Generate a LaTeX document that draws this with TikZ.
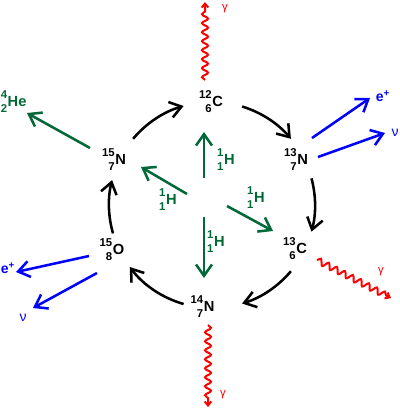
\documentclass[tikz,border=0pt]{standalone}
\usepackage{fontspec}
\setmainfont{Liberation Sans}
\usetikzlibrary{arrows.meta,decorations.pathmorphing,calc}
\definecolor{dgreen}{RGB}{0,105,55}
\newcommand{\nucl}[3]{\begin{tabular}{@{}r@{}}{\fontsize{8.5}{9}\selectfont\bfseries #1}\\{\fontsize{8.5}{9}\selectfont\bfseries #2}\end{tabular}\kern0.5pt{\bfseries #3}}
\begin{document}
\begin{tikzpicture}[x=0.75pt,y=-0.75pt,
  nuc/.style={inner sep=0pt,font=\fontsize{11}{10.5}\selectfont},
  lbl/.style={inner sep=0pt,font=\fontsize{10.5}{10.5}\selectfont},
  glbl/.style={inner sep=0pt,text=red,font=\fontsize{8.5}{8.5}\selectfont},
  cyc/.style={line width=1.9pt,-{Straight Barb[length=8.5pt,width=12pt]}},
  garr/.style={draw=dgreen,line width=1.9pt,-{Straight Barb[length=8.5pt,width=12pt]}},
  barr/.style={draw=blue,line width=1.9pt,-{Straight Barb[length=8.5pt,width=12pt]}},
  wave/.style={draw=red,line width=1.5pt,decorate,decoration={snake,amplitude=2.25pt,segment length=6.75pt,post length=3.75pt},-{Straight Barb[length=3pt,width=5pt]}}]
\useasboundingbox (0,0) rectangle (400,408);
\coordinate (c) at (212,205);
% nuclides
\node[nuc] (c12) at (211,103) {\nucl{12}{6}{C}};
\node[nuc] (n13) at (296,161) {\nucl{13}{7}{N}};
\node[nuc] (c13) at (295,250) {\nucl{13}{6}{C}};
\node[nuc] (n14) at (202.5,308) {\nucl{14}{7}{N}};
\node[nuc] (o15) at (112,251) {\nucl{15}{8}{O}};
\node[nuc] (n15) at (114,160.5) {\nucl{15}{7}{N}};
\node[nuc,text=dgreen,anchor=west] (he4) at (0.5,103) {\nucl{4}{2}{He}};
% proton labels
\node[nuc,text=dgreen] (h1) at (226,161) {\nucl{1}{1}{H}};
\node[nuc,text=dgreen] (h2) at (168,201) {\nucl{1}{1}{H}};
\node[nuc,text=dgreen] (h3) at (256,199) {\nucl{1}{1}{H}};
\node[nuc,text=dgreen] (h4) at (216,243) {\nucl{1}{1}{H}};
% leptons
\node[lbl,text=blue] (ep1) at (383,96) {\bfseries e\textsuperscript{+}};
\node[lbl,text=blue] (nu1) at (395,133) {ν};
\node[lbl,text=blue,anchor=west] (ep2) at (0.5,268) {\bfseries e\textsuperscript{+}};
\node[lbl,text=blue] (nu2) at (23,318) {ν};
% gammas
\node[glbl] (g1) at (225,9) {γ};
\node[glbl] (g2) at (381,272) {γ};
\node[glbl] (g3) at (223,395) {γ};
% cycle arcs
\draw[cyc] ($(c)+(-73:103)$) arc[start angle=-73,end angle=-40,radius=103];
\draw[cyc] ($(c)+(-15:103)$) arc[start angle=-15,end angle=15,radius=103];
\draw[cyc] ($(c)+(40:103)$) arc[start angle=40,end angle=73,radius=103];
\draw[cyc] ($(c)+(106:103)$) arc[start angle=106,end angle=143,radius=103];
\draw[cyc] ($(c)+(164:103)$) arc[start angle=164,end angle=194,radius=103];
\draw[cyc] ($(c)+(220:103)$) arc[start angle=220,end angle=254,radius=103];
% green arrows
\coordinate (s0) at (90,148); \coordinate (t0) at (27,113);
\coordinate (s1) at (204,178); \coordinate (t1) at (204,132);
\coordinate (s2) at (187,194); \coordinate (t2) at (141,167);
\coordinate (s3) at (227,206); \coordinate (t3) at (273,231);
\coordinate (s4) at (204,217); \coordinate (t4) at (204,278);
\draw[garr] (s0) -- (t0);
\draw[garr] (s1) -- (t1);
\draw[garr] (s2) -- (t2);
\draw[garr] (s3) -- (t3);
\draw[garr] (s4) -- (t4);
% blue arrows
\coordinate (b1s) at (312,138); \coordinate (b1t) at (370,98);
\coordinate (b2s) at (318,157); \coordinate (b2t) at (385,133);
\coordinate (b3s) at (89,256); \coordinate (b3t) at (16,272);
\coordinate (b4s) at (97,273); \coordinate (b4t) at (33,308);
\draw[barr] (b1s) -- (b1t);
\draw[barr] (b2s) -- (b2t);
\draw[barr] (b3s) -- (b3t);
\draw[barr] (b4s) -- (b4t);
% gamma waves
\coordinate (w1s) at (205,80); \coordinate (w1t) at (205,2);
\coordinate (w2s) at (317,260); \coordinate (w2t) at (391,298);
\coordinate (w3s) at (208,325); \coordinate (w3t) at (208,407);
\draw[wave] (w1s) -- (w1t);
\draw[wave] (w2s) -- (w2t);
\draw[wave] (w3s) -- (w3t);
\end{tikzpicture}
\end{document}
